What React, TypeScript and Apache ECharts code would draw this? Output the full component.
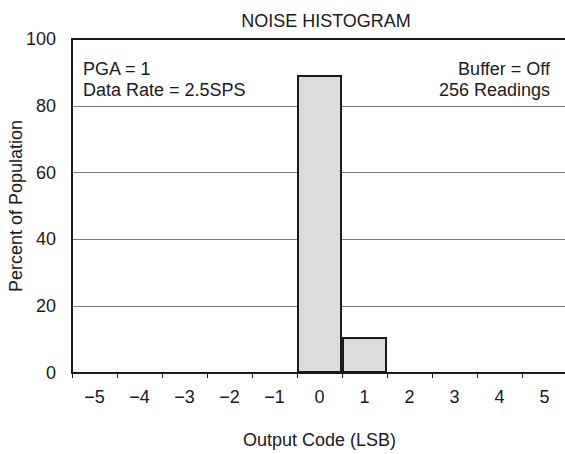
import React, { useEffect, useRef } from "react";
import * as echarts from "echarts";

const categories = ["−5", "−4", "−3", "−2", "−1", "0", "1", "2", "3", "4", "5"];
const percentValues = [0, 0, 0, 0, 0, 89.2, 10.8, 0, 0, 0, 0];
const yTicks = [0, 20, 40, 60, 80, 100];
const notesLeft = ["PGA = 1", "Data Rate = 2.5SPS"];
const notesRight = ["Buffer = Off", "256 Readings"];

const FONT = "Liberation Sans, Arial, sans-serif";
const INK = "#1a1a1a";
const FS = 18;

export default function App() {
  const ref = useRef<HTMLDivElement>(null);
  useEffect(() => {
    document.body.style.margin = "0";
    const chart = echarts.init(ref.current!, null, { renderer: "svg" });
    chart.setOption({
      animation: false,
      backgroundColor: "#fff",
      textStyle: { fontFamily: FONT, color: INK },
      title: {
        text: "NOISE HISTOGRAM",
        left: 321,
        top: 7,
        textAlign: "center",
        textStyle: { fontFamily: FONT, fontSize: FS, fontWeight: "normal", color: INK },
      },
      grid: { left: 72, right: -2, top: 39, bottom: 81, outerBoundsMode: "none" },
      xAxis: [
        {
          type: "category",
          data: categories,
          name: "Output Code (LSB)",
          nameLocation: "middle",
          nameGap: 58,
          nameMoveOverlap: false,
          nameTextStyle: { fontFamily: FONT, fontSize: FS, color: INK },
          axisLine: { show: true, lineStyle: { color: INK, width: 2 } },
          axisTick: { show: true, length: 5, lineStyle: { color: INK, width: 1 } },
          axisLabel: { fontFamily: FONT, fontSize: FS, color: INK, margin: 15 },
          splitLine: { show: false },
        },
        {
          type: "category",
          data: categories,
          position: "top",
          axisLine: { show: true, lineStyle: { color: INK, width: 2 } },
          axisTick: { show: false },
          axisLabel: { show: false },
        },
      ],
      yAxis: {
        type: "value",
        min: 0,
        max: 100,
        interval: 20,
        name: "Percent of Population",
        nameLocation: "middle",
        nameGap: 47,
        nameMoveOverlap: false,
        nameTextStyle: { fontFamily: FONT, fontSize: FS, color: INK },
        axisLine: { show: true, lineStyle: { color: INK, width: 2 } },
        axisTick: { show: false },
        axisLabel: {
          fontFamily: FONT,
          fontSize: FS,
          color: INK,
          margin: 16,
          formatter: (v: number) => (yTicks.includes(v) ? String(v) : ""),
        },
        splitLine: { show: true, lineStyle: { color: "#7a7a7a", width: 1 } },
      },
      graphic: [
        ...notesLeft.map((t, i) => ({
          type: "text",
          left: 83,
          top: 60 + i * 21,
          style: { text: t, fontFamily: FONT, fontSize: FS, fill: INK },
        })),
        ...notesRight.map((t, i) => ({
          type: "text",
          right: 15,
          top: 60 + i * 21,
          style: { text: t, fontFamily: FONT, fontSize: FS, fill: INK, textAlign: "right" },
        })),
      ],
      series: [
        {
          type: "bar",
          data: percentValues,
          barWidth: "100%",
          barCategoryGap: "0%",
          itemStyle: { color: "#dcdcdc", borderColor: INK, borderWidth: 2 },
          z: 3,
        },
      ],
    });
    return () => chart.dispose();
  }, []);
  return <div ref={ref} style={{ width: 565, height: 454 }} />;
}
